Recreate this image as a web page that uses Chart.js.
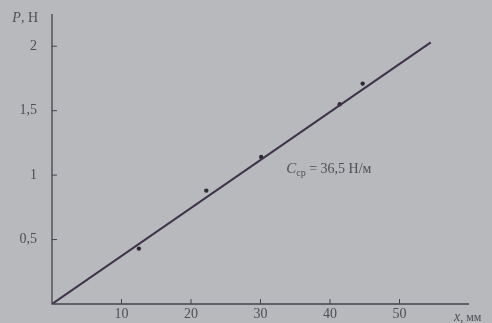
<!DOCTYPE html>
<html><head><meta charset="utf-8">
<script src="https://cdn.jsdelivr.net/npm/chart.js@4/dist/chart.umd.min.js"></script>
<style>
html,body{margin:0;padding:0;background:#b7b9bc;}
#wrap{width:492px;height:323px;position:relative;}
</style></head>
<body><div id="wrap"><canvas id="c" width="492" height="323"></canvas></div>
<script>
// Data
const pointsX = [12.5, 22.2, 30.1, 41.4, 44.7];      // x, мм
const pointsP = [0.43, 0.88, 1.14, 1.55, 1.71];      // P, Н
const fitX = [0, 54.5];
const fitP = [0, 2.03];
const xTicks = [10, 20, 30, 40, 50];
const yTicks = [0.5, 1, 1.5, 2];
const yTickLabels = ['0,5', '1', '1,5', '2'];
const xTitle = 'x, мм';
const yTitle = 'P, Н';
const noteMain = 'C';
const noteSub = 'ср';
const noteRest = ' = 36,5 Н/м';
const noteAt = {x: 33.7, y: 1.02};

const ink = '#3e3348';
const textCol = '#4e5056';
const serif = '"Liberation Serif", "DejaVu Serif", serif';

const decor = {
  id: 'decor',
  afterDatasetsDraw(chart) {
    const ctx = chart.ctx, xs = chart.scales.x, ys = chart.scales.y;
    const x0 = xs.getPixelForValue(0), y0 = ys.getPixelForValue(0);
    ctx.save();
    ctx.strokeStyle = '#45434c';
    ctx.lineWidth = 1.3;
    ctx.beginPath();
    ctx.moveTo(x0, ys.top); ctx.lineTo(x0, y0); ctx.lineTo(xs.right, y0);
    ctx.stroke();
    ctx.lineWidth = 1;
    xTicks.forEach(v => { const p = xs.getPixelForValue(v); ctx.beginPath(); ctx.moveTo(p, y0); ctx.lineTo(p, y0 - 5); ctx.stroke(); });
    yTicks.forEach(v => { const p = ys.getPixelForValue(v); ctx.beginPath(); ctx.moveTo(x0, p); ctx.lineTo(x0 + 5, p); ctx.stroke(); });
    ctx.fillStyle = textCol;
    ctx.textBaseline = 'alphabetic';
    ctx.textAlign = 'left';
    // y-axis title, ending just left of the axis
    ctx.font = '14px ' + serif;
    const restW = ctx.measureText(yTitle.slice(1)).width;
    ctx.font = 'italic 14px ' + serif;
    const pW = ctx.measureText('P').width;
    const startX = 38 - restW - pW;
    ctx.fillText('P', startX, 22);
    ctx.font = '14px ' + serif;
    ctx.fillText(yTitle.slice(1), startX + pW, 22);
    // x-axis title
    ctx.font = 'italic 14px ' + serif;
    ctx.fillText('x', 454, 321);
    const w = ctx.measureText('x').width;
    ctx.font = '12px ' + serif;
    ctx.fillText(xTitle.slice(1), 454 + w, 321);
    // note
    const nx = xs.getPixelForValue(noteAt.x), ny = ys.getPixelForValue(noteAt.y);
    ctx.font = 'italic 15px ' + serif;
    ctx.fillText(noteMain, nx, ny);
    let cx = nx + ctx.measureText(noteMain).width;
    ctx.font = '10px ' + serif;
    ctx.fillText(noteSub, cx, ny + 3);
    cx += ctx.measureText(noteSub).width;
    ctx.font = '14px ' + serif;
    ctx.fillText(noteRest, cx, ny);
    ctx.restore();
  }
};

const zeroPad = s => { s.paddingTop = 0; s.paddingBottom = 0; s.paddingLeft = 0; s.paddingRight = 0; };

new Chart(document.getElementById('c'), {
  type: 'scatter',
  data: {
    datasets: [
      { data: fitX.map((x, i) => ({x, y: fitP[i]})), showLine: true, borderColor: ink, borderWidth: 2, pointRadius: 0, fill: false },
      { data: pointsX.map((x, i) => ({x, y: pointsP[i]})), pointRadius: 2.2, backgroundColor: '#2e2a36', borderWidth: 0 }
    ]
  },
  options: {
    responsive: false, animation: false,
    layout: { padding: { top: 14, right: 23, left: 0, bottom: 0 } },
    plugins: { legend: { display: false }, tooltip: { enabled: false } },
    scales: {
      x: {
        type: 'linear', min: 0, max: 60,
        afterBuildTicks: s => { s.ticks = xTicks.map(v => ({value: v})); },
        afterFit: s => { s.height = 19; zeroPad(s); },
        grid: { display: false, drawTicks: false },
        border: { display: false },
        ticks: { color: textCol, font: { family: serif, size: 14 }, padding: 2 }
      },
      y: {
        type: 'linear', min: 0, max: 2.25,
        afterBuildTicks: s => { s.ticks = yTicks.map(v => ({value: v})); },
        afterFit: s => { s.width = 52; zeroPad(s); },
        grid: { display: false, drawTicks: false },
        border: { display: false },
        ticks: { color: textCol, font: { family: serif, size: 14 }, padding: 15,
          callback: (v) => { const i = yTicks.indexOf(v); return i >= 0 ? yTickLabels[i] : ''; } }
      }
    }
  },
  plugins: [decor]
});
</script></body></html>
